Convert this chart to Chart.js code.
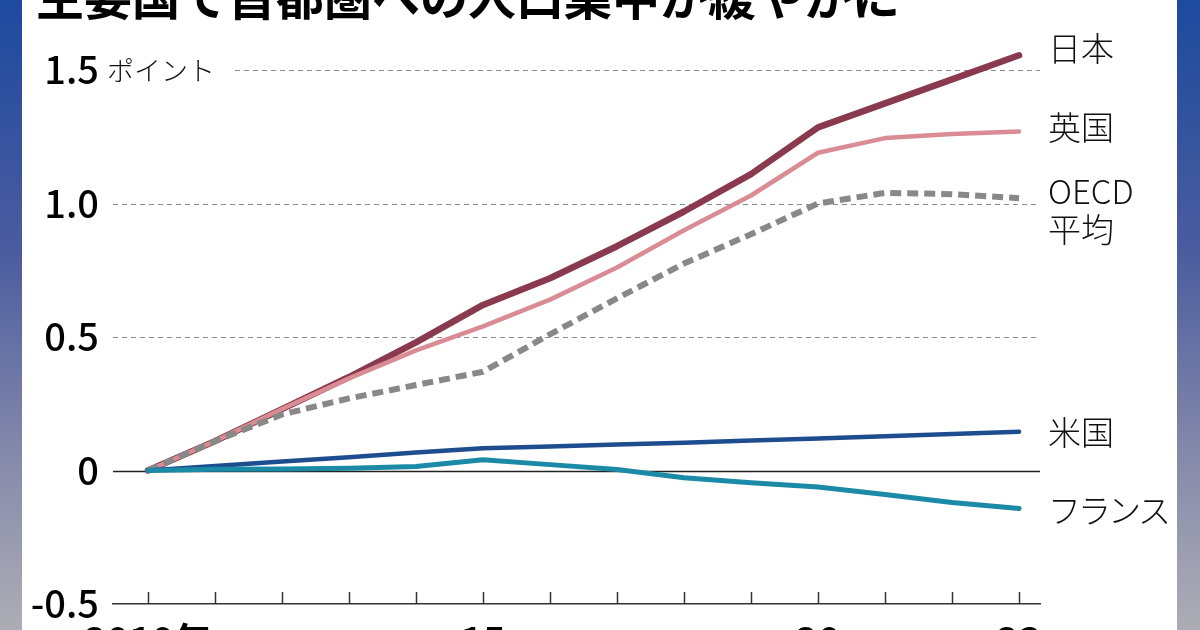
<!DOCTYPE html>
<html lang="ja">
<head>
<meta charset="utf-8">
<script src="https://cdn.jsdelivr.net/npm/chart.js@4.4.1/dist/chart.umd.min.js"></script>
<style>
  html, body { margin: 0; padding: 0; background: #fff; }
  body { width: 1200px; height: 630px; overflow: hidden; position: relative; }
  .band { position: absolute; top: 0; width: 22px; height: 630px;
    background: linear-gradient(to bottom, #1d4a9e 0%, #4b5c9f 40%, #8a8dab 75%, #adadb5 100%); }
  #wrap { position: absolute; left: 0; top: 0; width: 1200px; height: 680px; }
</style>
</head>
<body>
<div class="band" style="left:0"></div>
<div class="band" style="left:1177px; width:23px"></div>
<div id="wrap"><canvas id="chart" width="1200" height="680"></canvas></div>
<script>
// data (points from 2010)
const years = [2010, 2011, 2012, 2013, 2014, 2015, 2016, 2017, 2018, 2019, 2020, 2021, 2022, 2023];
const xTickLabels = ['2010年', '', '', '', '', '15', '', '', '', '', '20', '', '', '23'];
const yTicks = [-0.5, 0, 0.5, 1.0, 1.5];
const yTickLabels = ['-0.5', '0', '0.5', '1.0', '1.5'];

const japan  = [0, 0.11, 0.23, 0.35, 0.48, 0.62, 0.72, 0.84, 0.97, 1.11, 1.285, 1.375, 1.465, 1.555];
const uk     = [0, 0.11, 0.23, 0.345, 0.45, 0.54, 0.64, 0.76, 0.90, 1.03, 1.19, 1.245, 1.26, 1.27];
const oecd   = [0, 0.11, 0.21, 0.27, 0.32, 0.37, 0.51, 0.645, 0.775, 0.885, 1.00, 1.04, 1.035, 1.02];
const us     = [0, 0.017, 0.034, 0.05, 0.067, 0.083, 0.09, 0.097, 0.104, 0.112, 0.12, 0.128, 0.137, 0.145];
const france = [0, 0.005, 0.006, 0.008, 0.015, 0.04, 0.022, 0.004, -0.027, -0.046, -0.062, -0.09, -0.12, -0.142];

const seriesNames = ['日本', '英国', 'OECD平均', '米国', 'フランス'];
const titleText = '主要国で首都圏への人口集中が緩やかに';
const unitText = 'ポイント';

// end label placement (pixels)
const labelLines = [['日本'], ['英国'], ['OECD', '平均'], ['米国'], ['フランス']];
const labelY = [[48], [127], [191, 229], [432], [510]];
const labelSpacing = ['0px', '0px', '0px', '0px', '-3px'];

const FONT = '"Noto Sans CJK JP", "Noto Sans", sans-serif';

function toPoints(values) {
    return values.map((v, i) => ({x: years[i], y: v}));
}

const decor = {
    id: 'decor',
    beforeDatasetsDraw(chart) {
        const {ctx, chartArea: area, scales: {x, y}} = chart;
        ctx.save();
        // horizontal guides
        yTicks.forEach((v, i) => {
            if (i === 0) return;
            const py = Math.round(y.getPixelForValue(v)) + 0.5;
            ctx.beginPath();
            if (v === 0) {
                ctx.setLineDash([]);
                ctx.strokeStyle = '#222';
                ctx.lineWidth = 1.5;
            } else {
                ctx.setLineDash([5, 4]);
                ctx.strokeStyle = '#8a8a8a';
                ctx.lineWidth = 1.2;
            }
            const startX = i === yTicks.length - 1 ? 235 : area.left;
            ctx.moveTo(startX, py);
            ctx.lineTo(area.right, py);
            ctx.stroke();
        });
        // year ticks pointing up from the bottom axis
        ctx.setLineDash([]);
        ctx.strokeStyle = '#333';
        ctx.lineWidth = 1.5;
        years.forEach(yr => {
            const px = Math.round(x.getPixelForValue(yr)) + 0.5;
            ctx.beginPath();
            ctx.moveTo(px, area.bottom);
            ctx.lineTo(px, area.bottom - 12);
            ctx.stroke();
        });
        // unit next to top tick
        ctx.fillStyle = '#111';
        ctx.font = '300 27px ' + FONT;
        ctx.textBaseline = 'middle';
        ctx.fillText(unitText, 107, y.getPixelForValue(1.5) + 1);
        ctx.restore();
    },
    afterDraw(chart) {
        const {ctx} = chart;
        ctx.save();
        ctx.fillStyle = '#000';
        ctx.font = 'bold 48px ' + FONT;
        ctx.textBaseline = 'alphabetic';
        ctx.fillText(titleText, 36, 15);

        ctx.fillStyle = '#111';
        ctx.font = '300 33px ' + FONT;
        ctx.textBaseline = 'middle';
        labelLines.forEach((lines, i) => {
            ctx.letterSpacing = labelSpacing[i];
            lines.forEach((t, j) => ctx.fillText(t, 1048, labelY[i][j]));
        });
        ctx.restore();
    }
};

const lineStyle = {
    pointRadius: 0,
    pointHoverRadius: 0,
    tension: 0,
    borderCapStyle: 'round',
    borderJoinStyle: 'round',
    fill: false,
    clip: false
};

new Chart(document.getElementById('chart'), {
    type: 'line',
    data: {
        datasets: [
            {...lineStyle, label: seriesNames[4], data: toPoints(france), borderColor: '#1a8aa7', borderWidth: 5},
            {...lineStyle, label: seriesNames[3], data: toPoints(us), borderColor: '#1d4d8e', borderWidth: 4.5},
            {...lineStyle, label: seriesNames[2], data: toPoints(oecd), borderColor: '#888888', borderWidth: 6, borderDash: [11, 6], borderCapStyle: 'butt'},
            {...lineStyle, label: seriesNames[1], data: toPoints(uk), borderColor: '#d98c93', borderWidth: 4.5},
            {...lineStyle, label: seriesNames[0], data: toPoints(japan), borderColor: '#8a3a4e', borderWidth: 6.5}
        ]
    },
    options: {
        responsive: false,
        animation: false,
        layout: {padding: {left: 0, right: 160, top: 70, bottom: 0}},
        plugins: {
            legend: {display: false},
            tooltip: {enabled: false}
        },
        scales: {
            x: {
                type: 'linear',
                min: 2009.478,
                max: 2023.313,
                afterBuildTicks: s => { s.ticks = years.map(v => ({value: v})); },
                afterFit: s => { s.height = 76; },
                grid: {display: false, drawTicks: false},
                border: {display: true, color: '#333', width: 1.5},
                ticks: {
                    autoSkip: false,
                    maxRotation: 0,
                    padding: 14,
                    color: '#000',
                    font: {family: FONT, size: 38, weight: 'bold'},
                    callback: (v, i) => xTickLabels[years.indexOf(v)] ?? ''
                }
            },
            y: {
                min: -0.5,
                max: 1.5,
                afterBuildTicks: s => { s.ticks = yTicks.map(v => ({value: v})); },
                afterFit: s => { s.width = 113; },
                grid: {display: false, drawTicks: false},
                border: {display: false},
                ticks: {
                    padding: 14,
                    color: '#000',
                    font: {family: FONT, size: 38, weight: '500'},
                    callback: v => yTickLabels[yTicks.indexOf(v)] ?? ''
                }
            }
        }
    },
    plugins: [decor]
});
</script>
</body>
</html>
